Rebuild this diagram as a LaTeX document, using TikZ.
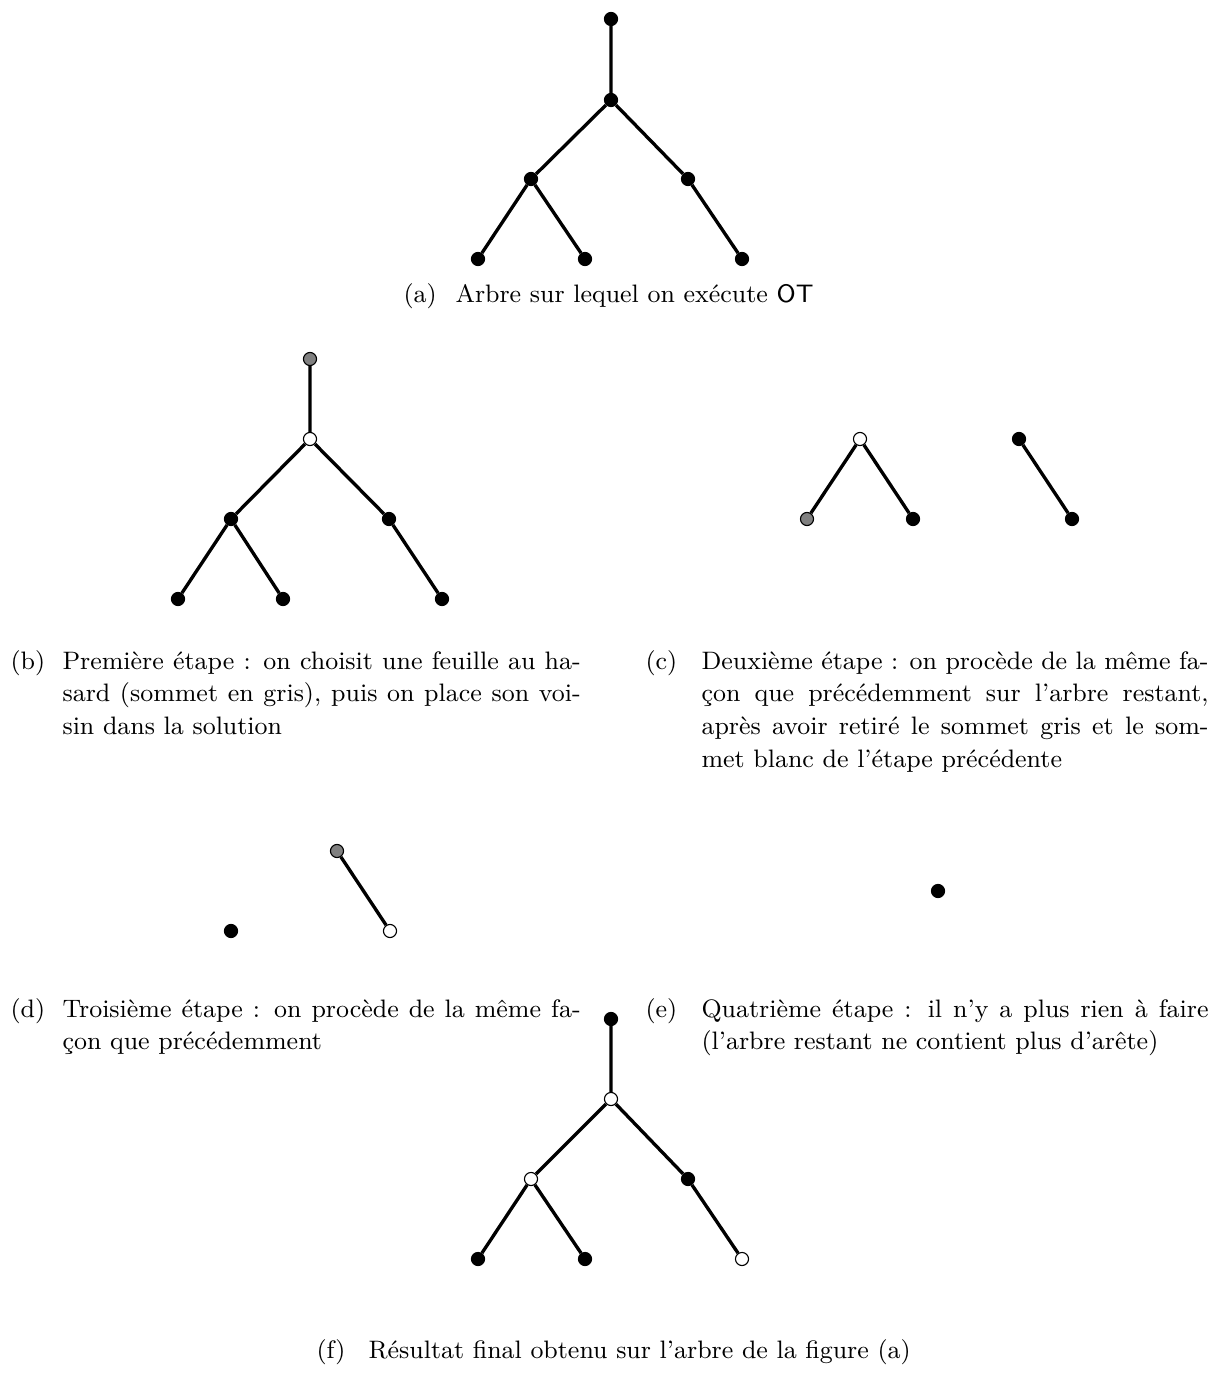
\documentclass[tikz,border=0pt]{standalone}
\usepackage{tikz}

\begin{document}
\begin{tikzpicture}[x=0.0126cm,y=-0.0126cm,
    every node/.style={font=\fontsize{9.05}{11.8}\selectfont},
    sommet/.style={circle,draw=black,line width=0.4pt,inner sep=0pt,minimum size=0.165cm},
    noir/.style={sommet,fill=black},
    gris/.style={sommet,fill=gray},
    blanc/.style={sommet,fill=white},
    arete/.style={line width=1.2pt},
    legende/.style={anchor=base west,inner sep=0pt}]
	\useasboundingbox (0,0) rectangle (1215,1373);
	% (a)
	\node[noir] (a0) at (611,19) {};
	\node[noir] (a1) at (611,100) {};
	\node[noir] (a2) at (531,179) {};
	\node[noir] (a3) at (688,179) {};
	\node[noir] (a4) at (478,259) {};
	\node[noir] (a5) at (585,259) {};
	\node[noir] (a6) at (742,259) {};
	\draw[arete] (a0) -- (a1) (a1) -- (a2) (a1) -- (a3) (a2) -- (a4) (a2) -- (a5) (a3) -- (a6);
	\node[legende] (la) at (403,303) {(a)};
	\node[legende] (ta) at (455,303) {Arbre sur lequel on exécute \textsf{OT}};
	% (b)
	\node[gris] (b0) at (310,359) {};
	\node[blanc] (b1) at (310,439) {};
	\node[noir] (b2) at (231,519) {};
	\node[noir] (b3) at (389,519) {};
	\node[noir] (b4) at (178,599) {};
	\node[noir] (b5) at (283,599) {};
	\node[noir] (b6) at (442,599) {};
	\draw[arete] (b0) -- (b1) (b1) -- (b2) (b1) -- (b3) (b2) -- (b4) (b2) -- (b5) (b3) -- (b6);
	\node[legende] (lb) at (10,669) {(b)};
	\node[legende] (tb) at (62,669) {\parbox[t]{6.53cm}{Première étape : on choisit une feuille au ha-\linebreak sard (sommet en gris), puis on place son voi-\linebreak sin dans la solution}};
	% (c)
	\node[blanc] (c1) at (860,439) {};
	\node[gris] (c2) at (807,519) {};
	\node[noir] (c3) at (913,519) {};
	\node[noir] (c4) at (1019,439) {};
	\node[noir] (c5) at (1072,519) {};
	\draw[arete] (c1) -- (c2) (c1) -- (c3) (c4) -- (c5);
	\node[legende] (lc) at (645,669) {(c)};
	\node[legende] (tc) at (701,669) {\parbox[t]{6.39cm}{Deuxième étape : on procède de la même fa-\linebreak çon que précédemment sur l'arbre restant,\linebreak après avoir retiré le sommet gris et le som-\linebreak met blanc de l'étape précédente}};
	% (d)
	\node[noir] (d1) at (231,931) {};
	\node[gris] (d2) at (337,851) {};
	\node[blanc] (d3) at (390,931) {};
	\draw[arete] (d2) -- (d3);
	\node[legende] (ld) at (10,1017) {(d)};
	\node[legende] (td) at (62,1017) {\parbox[t]{6.53cm}{Troisième étape : on procède de la même fa-\linebreak çon que précédemment}};
	% (e)
	\node[noir] (e1) at (938,891) {};
	\node[legende] (le) at (645,1017) {(e)};
	\node[legende] (te) at (701,1017) {\parbox[t]{6.39cm}{Quatrième étape : il n'y a plus rien à faire\linebreak (l'arbre restant ne contient plus d'arête)}};
	% (f)
	\node[noir] (f0) at (611,1019) {};
	\node[blanc] (f1) at (611,1099) {};
	\node[blanc] (f2) at (531,1179) {};
	\node[noir] (f3) at (688,1179) {};
	\node[noir] (f4) at (478,1259) {};
	\node[noir] (f5) at (585,1259) {};
	\node[blanc] (f6) at (742,1259) {};
	\draw[arete] (f0) -- (f1) (f1) -- (f2) (f1) -- (f3) (f2) -- (f4) (f2) -- (f5) (f3) -- (f6);
	\node[legende] (lf) at (316,1358) {(f)};
	\node[legende] (tf) at (368,1358) {Résultat final obtenu sur l'arbre de la figure (a)};
\end{tikzpicture}
\end{document}
